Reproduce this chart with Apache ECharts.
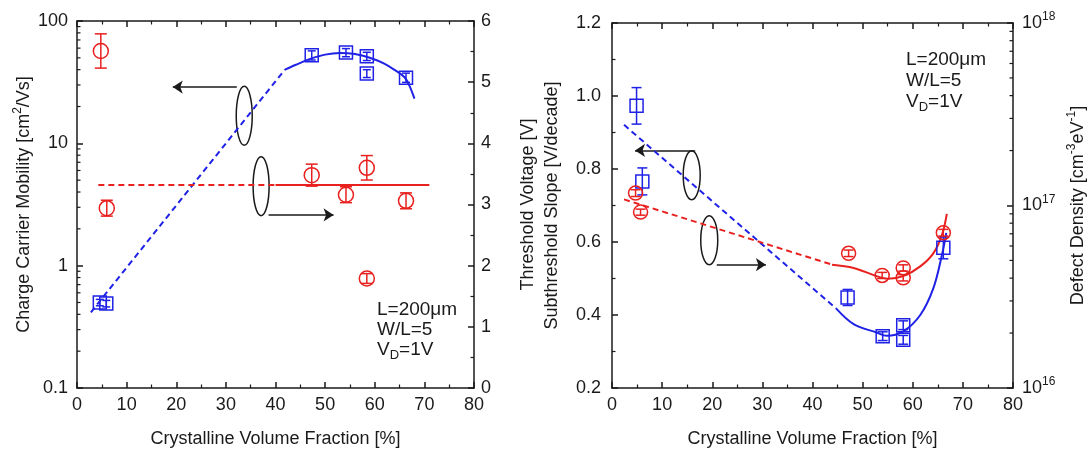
<!DOCTYPE html>
<html><head><meta charset="utf-8">
<script src="https://cdn.jsdelivr.net/npm/echarts@6/dist/echarts.min.js"></script>
<style>html,body{margin:0;padding:0;background:#fff}#c{width:1090px;height:453px}</style>
</head><body><div id="c"></div>
<script>
// === 左圖：遷移率 (藍, 左對數軸) 與 閾值電壓 (紅, 右軸) ===
const muX=[4.6,5.9,47.3,54.2,58.4,58.4,66.3];
const muY=[0.5,0.49,52.6,55.2,51.4,37.2,34.4];
const muLo=[0.47,0.46,48,51,47.5,34.5,31.5];
const muHi=[0.53,0.52,57,59.5,55.5,40,37.5];
const vtX=[4.8,6.0,47.3,54.2,58.4,58.4,66.3];
const vtY=[5.51,2.94,3.48,3.16,3.6,1.79,3.06];
const vtErr=[0.28,0.13,0.18,0.13,0.2,0.08,0.13];
const muDashX=[2.8,41.9], muDashY=[0.416,40.1];
const muFitX=[41.9,44,47,50,53,56,59,62,64,66,67,68];
const muFitY=[40.1,43.7,49.0,53.1,54.7,53.7,50.1,44.7,39.8,34.7,29.5,23.2];
const vtDashX=[4.3,40], vtFitX=[40,71], vtLevel=3.32;

// === 右圖：亞閾值擺幅 (藍, 左軸) 與 缺陷密度 (紅, 右對數軸) ===
const ssX=[4.9,6.05,47.0,54.0,58.1,58.1,66.1];
const ssY=[0.973,0.766,0.448,0.342,0.372,0.332,0.584];
const ssErr=[0.05,0.037,0.022,0.012,0.012,0.012,0.03];
const ddX=[4.7,5.7,47.2,53.9,58.1,58.1,66.1];
const ddY=[1.17e17,9.2e16,5.47e16,4.14e16,4.55e16,4.02e16,7.1e16];
const ddLo=[1.12e17,8.85e16,5.25e16,3.98e16,4.37e16,3.86e16,6.8e16];
const ddHi=[1.22e17,9.55e16,5.7e16,4.3e16,4.73e16,4.18e16,7.4e16];
const ssDashX=[2.4,44.7], ssDashY=[0.921,0.418];
const ssFitX=[44.7,48.2,52.8,54.8,58.1,61.5,64.1,65.8,66.7];
const ssFitY=[0.418,0.375,0.352,0.343,0.355,0.40,0.473,0.563,0.625];
const ddDashX=[2.4,43.9], ddDashY=[1.08e17,4.74e16];
const ddFitX=[43.9,48.2,52.8,55.1,58.1,61.5,64.1,65.8,66.8];
const ddFitY=[4.74e16,4.55e16,4.10e16,3.97e16,4.10e16,4.64e16,5.47e16,6.86e16,9.0e16];

// === 標註 (箭頭與橢圓, 數據座標) ===
const leftArrows=[[[32.2,4.92],[19.3,4.92]],[[38.6,2.83],[51.7,2.83]]];
const leftEllipses=[[33.7,4.45],[37.1,3.3]];
const rightArrows=[[[16.6,0.851],[4.6,0.851]],[[20.9,0.538],[30.7,0.538]]];
const rightEllipses=[[15.9,0.783],[19.4,0.605]];

const xTicks=[0,80,10];
const muTicks=[0.1,1,10,100];
// 頂端 1e18 稍微內收，否則浮點誤差會把它濾掉
const ddTicks=[1e16,1e17,0.999999e18];

// === 樣式 ===
const FONT='"Liberation Sans", Arial, sans-serif';
const BLUE='#1f22e6', RED='#e8201e', INK='#1a1a1a';
const LW=1.5;
const SUP={fontFamily:FONT,fontSize:12,color:INK,padding:[0,0,12,0]};
const SUB={fontFamily:FONT,fontSize:13,color:INK,padding:[11,0,0,0]};

function zip(a,b){return a.map((v,i)=>[v,b[i]])}
// 對數軸的次刻度 2..9
function minors(d0,d1){
  var out=[];
  for(var d=d0;d<d1;d++)for(var k=2;k<=9;k++)out.push(k*Math.pow(10,d));
  return out;
}
function axLine(){return {show:true,onZero:false,lineStyle:{color:INK,width:LW}}}

function xAx(grid,top){
  return {type:'value',gridIndex:grid,position:top?'top':'bottom',
    min:xTicks[0],max:xTicks[1],interval:xTicks[2],
    axisLine:axLine(),
    axisTick:{show:true,inside:true,length:6,lineStyle:{color:INK,width:LW}},
    minorTick:{show:true,splitNumber:2,length:3.5,lineStyle:{color:INK,width:1.2}},
    splitLine:{show:false},minorSplitLine:{show:false},
    axisLabel:{show:!top,margin:8,fontFamily:FONT,fontSize:18,color:INK},
    name:top?'':'Crystalline Volume Fraction [%]',nameLocation:'middle',nameGap:42,
    nameTextStyle:{fontFamily:FONT,fontSize:18,color:INK}};
}

function errItem(cap){
  return function(params,api){
    var a=api.coord([api.value(0),api.value(1)]);
    var b=api.coord([api.value(0),api.value(2)]);
    var st={stroke:api.visual('color'),lineWidth:LW};
    return {type:'group',children:[
      {type:'line',shape:{x1:a[0],y1:a[1],x2:b[0],y2:b[1]},style:st},
      {type:'line',shape:{x1:a[0]-cap/2,y1:a[1],x2:a[0]+cap/2,y2:a[1]},style:st},
      {type:'line',shape:{x1:b[0]-cap/2,y1:b[1],x2:b[0]+cap/2,y2:b[1]},style:st}]};
  };
}
function ellItem(rx,ry){
  return function(params,api){
    var c=api.coord([api.value(0),api.value(1)]);
    return {type:'ellipse',shape:{cx:c[0],cy:c[1],rx:rx,ry:ry},style:{fill:'none',stroke:INK,lineWidth:LW}};
  };
}
function tickSeries(xi,yi,edgeX,dir,vals){
  return {type:'custom',xAxisIndex:xi,yAxisIndex:yi,silent:true,clip:false,z:5,
    data:vals.map(v=>[edgeX,v]),
    renderItem:function(p,api){
      var c=api.coord([api.value(0),api.value(1)]);
      return {type:'line',shape:{x1:c[0],y1:c[1],x2:c[0]+dir*3.5,y2:c[1]},style:{stroke:INK,lineWidth:1.2}};
    }};
}
function errSeries(xi,yi,color,cap,data){
  return {type:'custom',xAxisIndex:xi,yAxisIndex:yi,itemStyle:{color:color},renderItem:errItem(cap),
    encode:{x:0,y:[1,2]},data:data,silent:true,z:3};
}
function markers(xi,yi,color,sym,size,data){
  return {type:'scatter',xAxisIndex:xi,yAxisIndex:yi,symbol:sym,symbolSize:size,data:data,silent:true,z:4,
    itemStyle:{color:'rgba(0,0,0,0)',borderColor:color,borderWidth:LW,opacity:1}};
}
function fit(xi,yi,color,data,dashed,smooth){
  return {type:'line',xAxisIndex:xi,yAxisIndex:yi,data:data,symbol:'none',smooth:smooth?0.35:false,silent:true,z:2,
    lineStyle:{color:color,width:2,type:dashed?[6,4]:'solid'}};
}
function arrows(xi,yi,list){
  return {type:'lines',coordinateSystem:'cartesian2d',xAxisIndex:xi,yAxisIndex:yi,silent:true,
    symbol:['none','arrow'],symbolSize:[0,10],
    lineStyle:{color:INK,width:LW,opacity:1,curveness:0},itemStyle:{color:INK},
    data:list.map(a=>({coords:a}))};
}

var chart=echarts.init(document.getElementById('c'),null,{renderer:'canvas'});
chart.setOption({
  animation:false,
  backgroundColor:'#fff',
  grid:[{left:77,top:21,width:397,height:367},{left:612,top:23,width:401,height:372}],
  xAxis:[xAx(0,false),xAx(0,true),xAx(1,false),xAx(1,true)],
  yAxis:[
    {type:'log',logBase:10,gridIndex:0,position:'left',min:0.1,max:100,
      axisLine:axLine(),splitLine:{show:false},
      axisTick:{show:true,inside:true,length:6,customValues:muTicks,lineStyle:{color:INK,width:LW}},
      axisLabel:{customValues:muTicks,showMinLabel:true,showMaxLabel:true,margin:9,fontFamily:FONT,fontSize:18,color:INK,
        formatter:v=>String(+(+v).toPrecision(3))},
      name:'Charge Carrier Mobility [cm{sup|2}/Vs]',nameLocation:'middle',nameGap:41,
      nameTextStyle:{fontFamily:FONT,fontSize:18,color:INK,rich:{sup:SUP}}},
    {type:'value',gridIndex:0,position:'right',min:0,max:6,interval:1,
      axisLine:axLine(),splitLine:{show:false},
      axisTick:{show:true,inside:true,length:6,lineStyle:{color:INK,width:LW}},
      minorTick:{show:true,splitNumber:2,length:3.5,lineStyle:{color:INK,width:1.2}},
      axisLabel:{margin:7,fontFamily:FONT,fontSize:18,color:INK},
      name:'Threshold Voltage [V]',nameLocation:'middle',nameGap:45,
      nameTextStyle:{fontFamily:FONT,fontSize:18,color:INK}},
    {type:'value',gridIndex:1,position:'left',min:0.2,max:1.2,interval:0.2,
      axisLine:axLine(),splitLine:{show:false},
      axisTick:{show:true,inside:true,length:6,lineStyle:{color:INK,width:LW}},
      minorTick:{show:true,splitNumber:2,length:3.5,lineStyle:{color:INK,width:1.2}},
      axisLabel:{margin:11,fontFamily:FONT,fontSize:18,color:INK,formatter:v=>(+v).toFixed(1)},
      name:'Subthreshold Slope [V/decade]',nameLocation:'middle',nameGap:51,
      nameTextStyle:{fontFamily:FONT,fontSize:18,color:INK}},
    {type:'log',logBase:10,gridIndex:1,position:'right',min:1e16,max:1e18,
      axisLine:axLine(),splitLine:{show:false},
      axisTick:{show:true,inside:true,length:6,customValues:ddTicks,lineStyle:{color:INK,width:LW}},
      axisLabel:{customValues:ddTicks,showMinLabel:true,showMaxLabel:true,hideOverlap:false,margin:9,fontFamily:FONT,fontSize:18,color:INK,
        formatter:v=>'10{sup|'+Math.round(Math.log10(v))+'}',rich:{sup:SUP}},
      name:'Defect Density [cm{sup|-3}eV{sup|-1}]',nameLocation:'middle',nameGap:53,
      nameTextStyle:{fontFamily:FONT,fontSize:18,color:INK,rich:{sup:SUP}}}
  ],
  graphic:[
    {type:'text',left:377,top:300,silent:true,style:{text:'L=200μm\nW/L=5\nV{sub|D}=1V',
      fontFamily:FONT,fontSize:19,fill:INK,lineHeight:20,rich:{sub:SUB}}},
    {type:'text',left:906,top:49,silent:true,style:{text:'L=200μm\nW/L=5\nV{sub|D}=1V',
      fontFamily:FONT,fontSize:19,fill:INK,lineHeight:21,rich:{sub:SUB}}}
  ],
  series:[
    // 左圖
    tickSeries(0,0,xTicks[0],1,minors(-1,2)),
    fit(0,0,BLUE,zip(muDashX,muDashY),true,false),
    fit(0,0,BLUE,zip(muFitX,muFitY),false,true),
    fit(0,1,RED,zip(vtDashX,vtDashX.map(()=>vtLevel)),true,false),
    fit(0,1,RED,zip(vtFitX,vtFitX.map(()=>vtLevel)),false,false),
    errSeries(0,0,BLUE,8,muX.map((x,i)=>[x,muLo[i],muHi[i]])),
    markers(0,0,BLUE,'rect',13,zip(muX,muY)),
    errSeries(0,1,RED,12,vtX.map((x,i)=>[x,vtY[i]-vtErr[i],vtY[i]+vtErr[i]])),
    markers(0,1,RED,'circle',15,zip(vtX,vtY)),
    arrows(0,1,leftArrows),
    {type:'custom',xAxisIndex:0,yAxisIndex:1,renderItem:ellItem(8,29.5),data:leftEllipses,silent:true},
    // 右圖
    tickSeries(2,3,xTicks[1],-1,minors(16,18)),
    fit(2,2,BLUE,zip(ssDashX,ssDashY),true,false),
    fit(2,2,BLUE,zip(ssFitX,ssFitY),false,true),
    fit(2,3,RED,zip(ddDashX,ddDashY),true,false),
    fit(2,3,RED,zip(ddFitX,ddFitY),false,true),
    errSeries(2,2,BLUE,10,ssX.map((x,i)=>[x,ssY[i]-ssErr[i],ssY[i]+ssErr[i]])),
    markers(2,2,BLUE,'rect',13,zip(ssX,ssY)),
    errSeries(2,3,RED,10,ddX.map((x,i)=>[x,ddLo[i],ddHi[i]])),
    markers(2,3,RED,'circle',14,zip(ddX,ddY)),
    arrows(2,2,rightArrows),
    {type:'custom',xAxisIndex:2,yAxisIndex:2,renderItem:ellItem(8.5,24.5),data:rightEllipses,silent:true}
  ]
});
</script></body></html>
